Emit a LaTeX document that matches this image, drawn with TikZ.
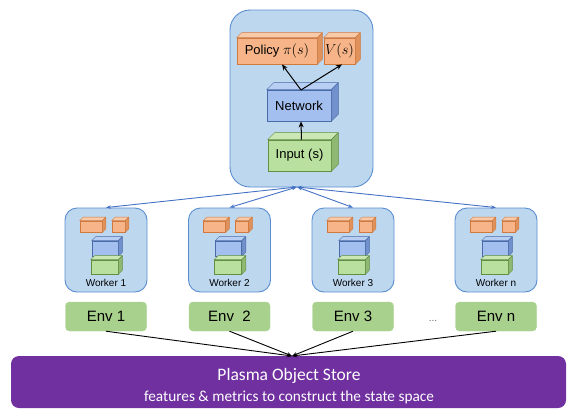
\documentclass[tikz,border=0pt]{standalone}
\usepackage{fontspec}
\setmainfont{Liberation Sans}
\newfontfamily\calib{Carlito}
\usetikzlibrary{arrows.meta}
\definecolor{boxfill}{HTML}{BDD7EE}
\definecolor{boxdraw}{HTML}{5A8ED0}
\definecolor{arrblue}{HTML}{4472C4}
\definecolor{orF}{HTML}{F6B488}
\definecolor{orT}{HTML}{F9CAA8}
\definecolor{orS}{HTML}{E0925C}
\definecolor{orD}{HTML}{D07A40}
\definecolor{blF}{HTML}{A3BFF0}
\definecolor{blT}{HTML}{B8CEF3}
\definecolor{blS}{HTML}{7290CC}
\definecolor{blD}{HTML}{4A6BA8}
\definecolor{grF}{HTML}{B9E09E}
\definecolor{grT}{HTML}{CBE8B4}
\definecolor{grS}{HTML}{8FB872}
\definecolor{grD}{HTML}{628F42}
\definecolor{envg}{HTML}{A9D18E}
\definecolor{plasma}{HTML}{7030A0}
\newcommand\cubeparts[5]{%
  \filldraw[fill=#3,draw=#5,line join=round] (#1.north west) -- ++(#2,-#2) -- ([shift={(#2,-#2)}]#1.north east) -- (#1.north east) -- cycle;
  \filldraw[fill=#4,draw=#5,line join=round] (#1.north east) -- ++(#2,-#2) -- ([shift={(#2,-#2)}]#1.south east) -- (#1.south east) -- cycle;
}
\newcommand\mth[1]{{\fontsize{14}{16}\selectfont$#1$}}
\tikzset{
  face/.style={draw, line width=0.7pt, inner sep=0pt, minimum width=#1},
  orange/.style={fill=orF, draw=orD},
  blue/.style={fill=blF, draw=blD},
  green/.style={fill=grF, draw=grD},
  panel/.style={fill=boxfill, draw=boxdraw, line width=0.9pt, inner sep=0pt},
  envbox/.style={fill=envg, draw=envg, rounded corners=4pt, minimum width=81pt, minimum height=29pt, inner sep=0pt, font=\fontsize{15}{17}\selectfont},
  bigtxt/.style={font=\fontsize{13}{15}\selectfont},
  blk/.style={-{Stealth[length=6pt,width=5pt]}, line width=1pt, black},
  bluearr/.style={{Stealth[length=5pt,width=3.5pt]}-{Stealth[length=5pt,width=3.5pt]}, line width=0.9pt, arrblue},
  envarr/.style={-{Stealth[length=5pt,width=4pt]}, line width=0.9pt, black}
}
\begin{document}
\begin{tikzpicture}[x=1pt,y=-1pt]
\useasboundingbox (0,0) rectangle (568,410);
% main panel
\node[panel, rounded corners=20pt, minimum width=143pt, minimum height=177pt] (main) at (301.5,98.5) {};
% cubes in main panel
\node[face=80pt, orange, minimum height=26pt, bigtxt] (policy) at (277,51) {Policy \mth{\pi(s)}};
\cubeparts{policy}{5}{orT}{orS}{orD}
\node[face=31pt, orange, minimum height=26pt, bigtxt] (vs) at (339.5,51) {\mth{V(s)}};
\cubeparts{vs}{5}{orT}{orS}{orD}
\node[face=64pt, blue, minimum height=31pt, bigtxt] (net) at (299,105.5) {Network};
\cubeparts{net}{7}{blT}{blS}{blD}
\node[face=63pt, green, minimum height=31pt, bigtxt] (inp) at (299.5,155.5) {Input (s)};
\cubeparts{inp}{7}{grT}{grS}{grD}
\coordinate (nettop) at (301,90);
\draw[blk] ([xshift=2pt]inp.north) -- ([xshift=2pt]net.south);
\draw[blk] (nettop) -- ([xshift=5pt]policy.south);
\draw[blk] (nettop) -- ([xshift=2.5pt]vs.south);
\coordinate (hub) at (297,187);
% workers
\foreach \i/\cx in {1/106,2/229.5,3/353,n/496}{
  \node[panel, rounded corners=12pt, minimum width=82pt, minimum height=84pt] (w\i) at (\cx,250) {};
  \node[face=22pt, orange, minimum height=11pt] (wpl\i) at (\cx-15,226.5) {};
  \cubeparts{wpl\i}{3.5}{orT}{orS}{orD}
  \node[face=13pt, orange, minimum height=11pt] (wpr\i) at (\cx+12.5,226.5) {};
  \cubeparts{wpr\i}{3.5}{orT}{orS}{orD}
  \node[face=26pt, blue, minimum height=15pt] (wnet\i) at (\cx-1,248.5) {};
  \cubeparts{wnet\i}{4}{blT}{blS}{blD}
  \node[face=27pt, green, minimum height=14pt] (winp\i) at (\cx-1.5,267) {};
  \cubeparts{winp\i}{4}{grT}{grS}{grD}
  \node[font=\fontsize{10}{12}\selectfont] (wl\i) at (\cx,283) {Worker \i};
  \node[envbox] (e\i) at (\cx,316.5) {};
  \draw[bluearr] (hub) -- (w\i.north);
}
\node[font=\fontsize{15}{17}\selectfont] at (e1) {Env 1};
\node[font=\fontsize{15}{17}\selectfont] at (e2) {Env\ \ 2};
\node[font=\fontsize{15}{17}\selectfont] at (e3) {Env 3};
\node[font=\fontsize{15}{17}\selectfont] at (en) {Env n};
\node[font=\fontsize{10}{12}\selectfont, text=black!60] (dots) at (433,321) {...};
% plasma
\node[fill=plasma, rounded corners=8pt, minimum width=555pt, minimum height=52pt, inner sep=0pt] (plasma) at (288.5,382) {};
\node[text=white, font=\calib\fontsize{17.5}{20}\selectfont] (pt1) at (289,376) {Plasma Object Store};
\node[text=white, font=\calib\fontsize{15.3}{17}\selectfont] (pt2) at (289,397) {features \& metrics to construct the state space};
\coordinate (pin) at (292,356);
\foreach \i in {1,2,3,n}{
  \draw[envarr] (e\i.south) -- (pin);
}
\end{tikzpicture}
\end{document}
